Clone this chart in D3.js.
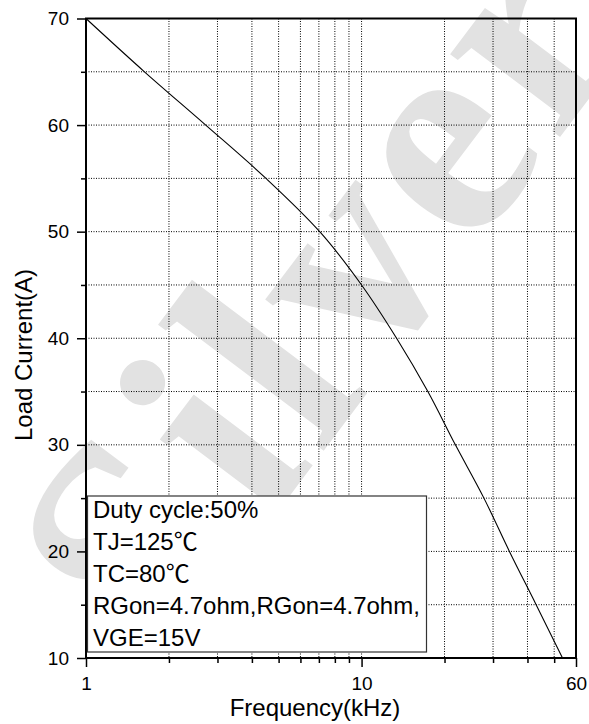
<!DOCTYPE html>
<html>
<head>
<meta charset="utf-8">
<script src="https://cdn.jsdelivr.net/npm/d3@7"></script>
<style>
  body { margin: 0; background: #fff; }
  svg { display: block; font-family: "Liberation Sans", Arial, "Noto Sans CJK SC", sans-serif; }
</style>
</head>
<body>
<script>
// curve
var freq = [1, 1.63, 2.72, 4.5, 7.05, 10.0, 13.4, 17.4, 21.9, 27.8, 34.4, 43.0, 53.6];
var current = [70, 65, 60, 55, 50, 45, 40, 35, 30, 25, 20, 15, 10];

var yMajor = [10, 20, 30, 40, 50, 60, 70];
var yMinor = [15, 25, 35, 45, 55, 65];
var yGrid = [15, 20, 25, 30, 35, 40, 45, 50, 55, 60, 65];
var xMajor = [1, 10, 60];
var xMinor = [2, 3, 4, 5, 6, 7, 8, 9, 20, 30, 40, 50];
var xGrid = [2, 3, 4, 5, 6, 7, 8, 9, 10, 20, 30, 40, 50];

var notes = ['Duty cycle:50%', 'TJ=125\u2103', 'TC=80\u2103',
    'RGon=4.7ohm,RGon=4.7ohm,', 'VGE=15V'];

var width = 589, height = 724,
    plotLeft = 86, plotRight = 576, plotTop = 18.5, plotBottom = 658;

var svg = d3.select('body').append('svg')
    .attr('width', width).attr('height', height);

// watermark
svg.append('text')
    .attr('transform', 'translate(160,668) rotate(-53)')
    .attr('font-family', '"Liberation Serif", "DejaVu Serif", serif')
    .attr('font-weight', 'bold')
    .attr('font-size', 300)
    .attr('letter-spacing', 8)
    .attr('fill', '#e2e2e2')
    .text('Silver');

var x = d3.scaleLog().domain([1, 60]).range([plotLeft, plotRight]);
var y = d3.scaleLinear().domain([10, 70]).range([plotBottom, plotTop]);

// grid
svg.append('g').selectAll('line').data(yGrid).enter().append('line')
    .attr('x1', plotLeft).attr('x2', plotRight)
    .attr('y1', function(d) { return y(d); })
    .attr('y2', function(d) { return y(d); })
    .attr('stroke', '#000').attr('stroke-width', 1)
    .attr('stroke-dasharray', '1,1.5');

svg.append('g').selectAll('line').data(xGrid).enter().append('line')
    .attr('y1', plotTop).attr('y2', plotBottom)
    .attr('x1', function(d) { return x(d); })
    .attr('x2', function(d) { return x(d); })
    .attr('stroke', '#000').attr('stroke-width', 1)
    .attr('stroke-dasharray', '1,1.5');

// axes
function styleAxis(g) {
    g.select('.domain').remove();
    g.selectAll('.tick line').attr('stroke', '#000').attr('stroke-width', 1.5);
    g.selectAll('.tick text').attr('font-size', 19).attr('fill', '#000')
        .attr('font-family', '"Liberation Sans", Arial, sans-serif');
}

svg.append('g').attr('transform', 'translate(' + plotLeft + ',0)')
    .call(d3.axisLeft(y).tickValues(yMajor).tickSize(9).tickPadding(8).tickFormat(d3.format('d')))
    .call(styleAxis);
svg.append('g').attr('transform', 'translate(' + plotLeft + ',0)')
    .call(d3.axisLeft(y).tickValues(yMinor).tickSize(5).tickFormat(''))
    .call(styleAxis);

svg.append('g').attr('transform', 'translate(0,' + plotBottom + ')')
    .call(d3.axisBottom(x).tickValues(xMajor).tickSize(9).tickPadding(10).tickFormat(d3.format('d')))
    .call(styleAxis);
svg.append('g').attr('transform', 'translate(0,' + plotBottom + ')')
    .call(d3.axisBottom(x).tickValues(xMinor).tickSize(5).tickFormat(''))
    .call(styleAxis);

// frame
svg.append('rect')
    .attr('x', plotLeft).attr('y', plotTop)
    .attr('width', plotRight - plotLeft).attr('height', plotBottom - plotTop)
    .attr('fill', 'none').attr('stroke', '#000').attr('stroke-width', 2);

// curve
var line = d3.line()
    .x(function(d, i) { return x(freq[i]); })
    .y(function(d, i) { return y(current[i]); })
    .curve(d3.curveCatmullRom.alpha(0.5));

svg.append('path')
    .datum(freq)
    .attr('d', line)
    .attr('fill', 'none')
    .attr('stroke', '#000')
    .attr('stroke-width', 1.1);

// note box
var box = svg.append('g');
box.append('rect')
    .attr('x', 87.5).attr('y', 496)
    .attr('width', 339).attr('height', 156)
    .attr('fill', '#fff').attr('stroke', '#333').attr('stroke-width', 1.2);
box.selectAll('text').data(notes).enter().append('text')
    .attr('x', 93)
    .attr('y', function(d, i) { return 518 + i * 31.9; })
    .attr('font-size', 24)
    .attr('fill', '#000')
    .text(function(d) { return d; });

// titles
svg.append('text')
    .attr('x', 315).attr('y', 716)
    .attr('text-anchor', 'middle')
    .attr('font-size', 24)
    .text('Frequency(kHz)');

svg.append('text')
    .attr('transform', 'translate(32,355) rotate(-90)')
    .attr('text-anchor', 'middle')
    .attr('font-size', 24)
    .text('Load Current(A)');
</script>
</body>
</html>
